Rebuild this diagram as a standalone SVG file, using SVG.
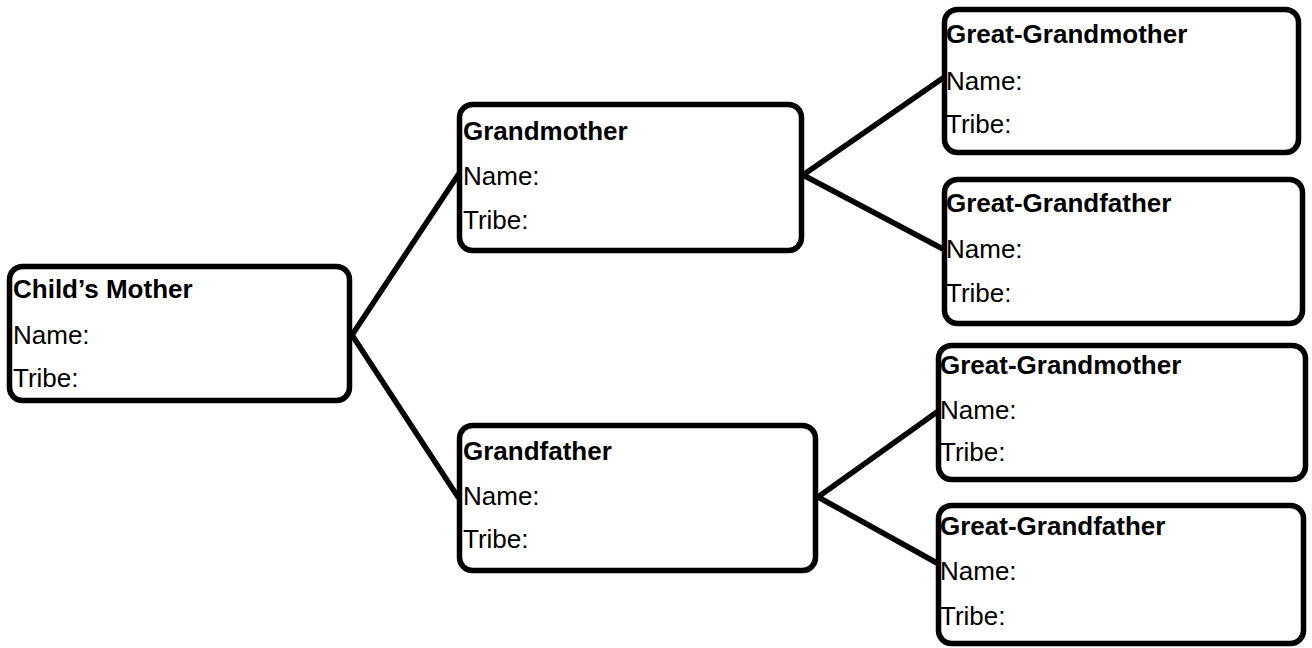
<svg xmlns="http://www.w3.org/2000/svg" width="1312" height="648" viewBox="0 0 1312 648">
<style>
.box{fill:#fff;stroke:#000;stroke-width:5.5}
.ln{stroke:#000;stroke-width:5.5;stroke-linecap:round;fill:none}
text{font-family:"Liberation Sans",Arial,sans-serif;font-size:26px;fill:#000}
.h{font-weight:bold}
</style>
<rect width="1312" height="648" fill="#fff"/>
<g id="connectors">
<line class="ln" x1="352" y1="335" x2="458" y2="175"/>
<line class="ln" x1="352" y1="335" x2="458" y2="497"/>
<line class="ln" x1="803" y1="175" x2="943" y2="78"/>
<line class="ln" x1="803" y1="175" x2="943" y2="249"/>
<line class="ln" x1="818" y1="497" x2="937" y2="412"/>
<line class="ln" x1="818" y1="497" x2="937" y2="563"/>
</g>
<g id="childs-mother">
<rect class="box" x="9.5" y="266.5" width="340" height="134" rx="13"/>
<text class="h" x="13" y="298">Child’s Mother</text>
<text x="13" y="344">Name:</text>
<text x="13" y="387">Tribe:</text>
</g>
<g id="grandmother">
<rect class="box" x="459.5" y="104.5" width="342" height="146" rx="13"/>
<text class="h" x="463" y="140">Grandmother</text>
<text x="463" y="185">Name:</text>
<text x="463" y="229">Tribe:</text>
</g>
<g id="grandfather">
<rect class="box" x="459.5" y="425.5" width="356" height="145" rx="13"/>
<text class="h" x="463" y="460">Grandfather</text>
<text x="463" y="505">Name:</text>
<text x="463" y="548">Tribe:</text>
</g>
<g id="great-grandmother-1">
<rect class="box" x="944.5" y="9.5" width="354" height="143" rx="13"/>
<text class="h" x="946" y="43">Great-Grandmother</text>
<text x="946" y="90">Name:</text>
<text x="946" y="133">Tribe:</text>
</g>
<g id="great-grandfather-1">
<rect class="box" x="944.5" y="179.5" width="358" height="144" rx="13"/>
<text class="h" x="946" y="212">Great-Grandfather</text>
<text x="946" y="258">Name:</text>
<text x="946" y="302">Tribe:</text>
</g>
<g id="great-grandmother-2">
<rect class="box" x="938.5" y="345.5" width="367" height="134" rx="13"/>
<text class="h" x="940" y="374">Great-Grandmother</text>
<text x="940" y="419">Name:</text>
<text x="940" y="461">Tribe:</text>
</g>
<g id="great-grandfather-2">
<rect class="box" x="938.5" y="505.5" width="365" height="138" rx="13"/>
<text class="h" x="940" y="535">Great-Grandfather</text>
<text x="940" y="580">Name:</text>
<text x="940" y="625">Tribe:</text>
</g>
</svg>
